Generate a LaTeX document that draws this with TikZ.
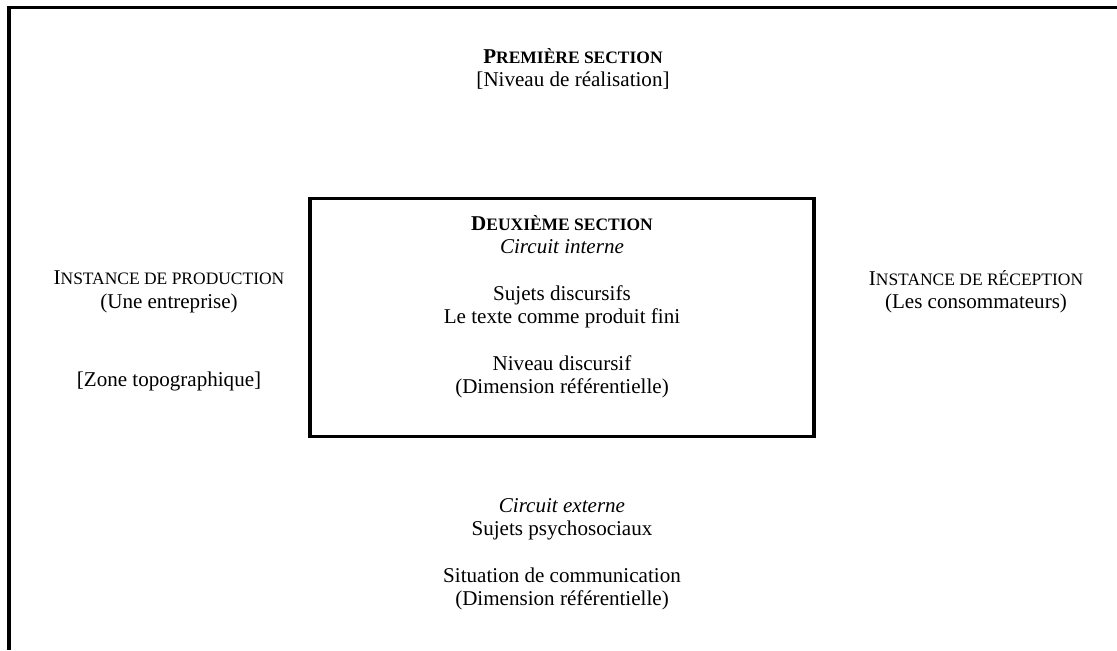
\documentclass[tikz,border=0pt]{standalone}
\usepackage{fontspec}
\setmainfont{Liberation Serif}
\usetikzlibrary{positioning}
\newcommand{\pcap}[1]{{\fontsize{13.1pt}{17.5pt}\selectfont #1}}
\tikzstyle{texte} = [align=center, inner sep=0pt, font={\fontsize{15.8pt}{17.5pt}\selectfont}]
\tikzstyle{cadre} = [draw, line width=2.8pt, minimum width=377.6pt, minimum height=178.5pt, inner sep=0pt]
\tikzstyle{bord} = [line width=2.8pt]

\begin{document}
\begin{tikzpicture}[x=0.75pt, y=-0.75pt]
    \useasboundingbox (0,0) rectangle (1117,650);
    % Frame
    \draw [bord] (9,650) -- (9,7.5) -- (1117,7.5);
    \node [texte] (premiere) at (573,69) {\textbf{P\pcap{REMIÈRE SECTION}}\\{[Niveau de réalisation]}};

    % Inner circuit
    \node [cadre] (interne) at (562,317.5) {};
    \node [texte] (deuxieme) at (562,307) {\textbf{D\pcap{EUXIÈME SECTION}}\\\textit{Circuit interne}\\[17.5pt]Sujets discursifs\\Le texte comme produit fini\\[17.5pt]Niveau discursif\\(Dimension référentielle)};

    % Instances
    \node [texte] (production) at (169,292) {I\pcap{NSTANCE DE PRODUCTION}\\(Une entreprise)};
    \node [texte, below=43.9pt of production] (zone) {[Zone topographique]};
    \node [texte] (reception) at (976,292) {I\pcap{NSTANCE DE RÉCEPTION}\\(Les consommateurs)};

    % Outer circuit
    \node [texte] (externe) at (562,554) {\textit{Circuit externe}\\Sujets psychosociaux\\[17.5pt]Situation de communication\\(Dimension référentielle)};
\end{tikzpicture}
\end{document}
